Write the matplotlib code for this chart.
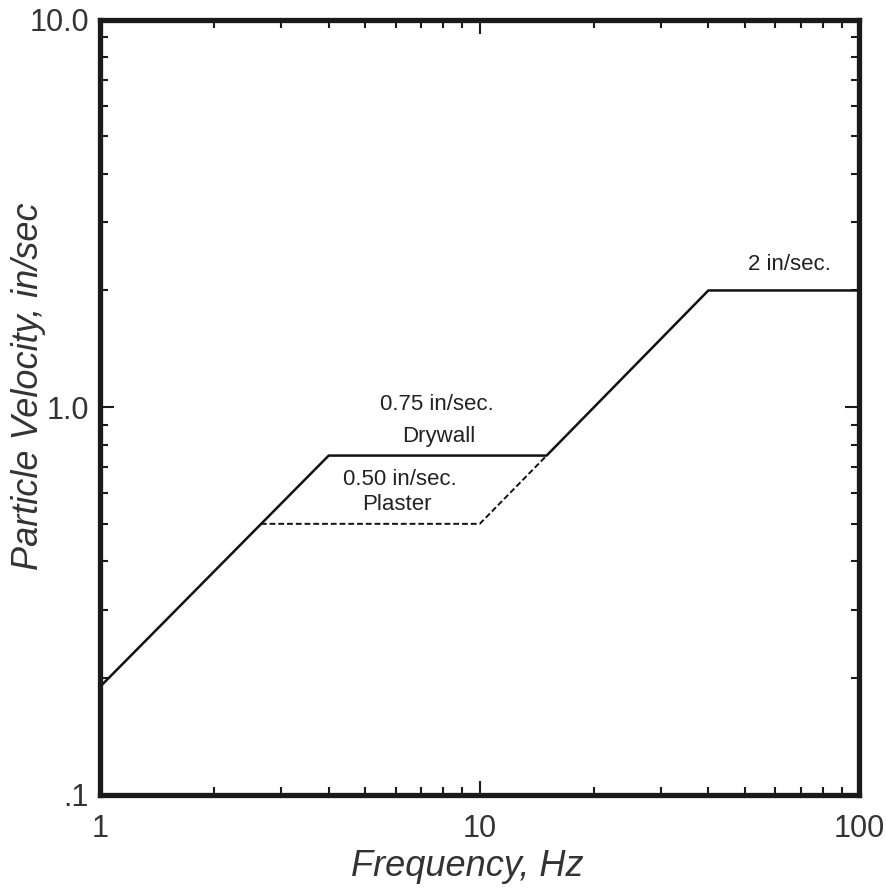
import matplotlib
matplotlib.use("Agg")
import matplotlib.pyplot as plt
from matplotlib.ticker import FixedLocator, LogLocator, NullFormatter

plt.rcParams['font.family'] = ['Liberation Sans', 'DejaVu Sans']

# Data
drywall_freq = [1, 4, 15, 40, 100]
drywall_vel = [0.19, 0.75, 0.75, 2.0, 2.0]
plaster_freq = [2.65, 10, 15]
plaster_vel = [0.5, 0.5, 0.75]
x_ticks = [1, 10, 100]
x_ticklabels = ["1", "10", "100"]
y_ticks = [0.1, 1.0, 10.0]
y_ticklabels = [".1", "1.0", "10.0"]

fig = plt.figure(figsize=(8.86, 8.88), dpi=100)
ax = fig.add_axes([0.113, 0.105, 0.857, 0.873])

ax.plot(drywall_freq, drywall_vel, color='#111111', lw=1.8, solid_capstyle='butt')
ax.plot(plaster_freq, plaster_vel, color='#111111', lw=1.4, ls=(0, (3, 1.5)))

ax.set_xscale('log')
ax.set_yscale('log')
ax.set_xlim(1, 100)
ax.set_ylim(0.1, 10)

ax.xaxis.set_major_locator(FixedLocator(x_ticks))
ax.set_xticklabels(x_ticklabels)
ax.yaxis.set_major_locator(FixedLocator(y_ticks))
ax.set_yticklabels(y_ticklabels)
ax.xaxis.set_minor_locator(LogLocator(base=10, subs=range(2, 10)))
ax.yaxis.set_minor_locator(LogLocator(base=10, subs=range(2, 10)))
ax.xaxis.set_minor_formatter(NullFormatter())
ax.yaxis.set_minor_formatter(NullFormatter())

ax.tick_params(which='both', direction='in', top=True, right=True, color='#1a1a1a')
ax.tick_params(which='major', length=10, width=1.5, labelsize=22, labelcolor='#333333')
ax.tick_params(axis='x', which='major', pad=14)
ax.tick_params(axis='y', which='major', pad=8)
ax.tick_params(which='minor', length=6, width=1.5)

for s in ax.spines.values():
    s.set_linewidth(3.8)
    s.set_color('#1a1a1a')

fig.text(467 / 886, 1 - 866 / 888, "Frequency, Hz", fontsize=26, style='italic',
         color='#333333', ha='center', va='center')
fig.text(29 / 886, 1 - 386 / 888, "Particle Velocity, in/sec", fontsize=26, style='italic',
         color='#333333', ha='center', va='center', rotation=90)

tkw = dict(fontsize=16, color='#222222', ha='center', va='center')
ax.text(7.7, 1.015, "0.75 in/sec.", **tkw)
ax.text(7.79, 0.839, "Drywall", **tkw)
ax.text(6.15, 0.650, "0.50 in/sec.", **tkw)
ax.text(6.04, 0.560, "Plaster", **tkw)
ax.text(65.4, 2.33, "2 in/sec.", **tkw)

fig.savefig("out.png", dpi=100)
